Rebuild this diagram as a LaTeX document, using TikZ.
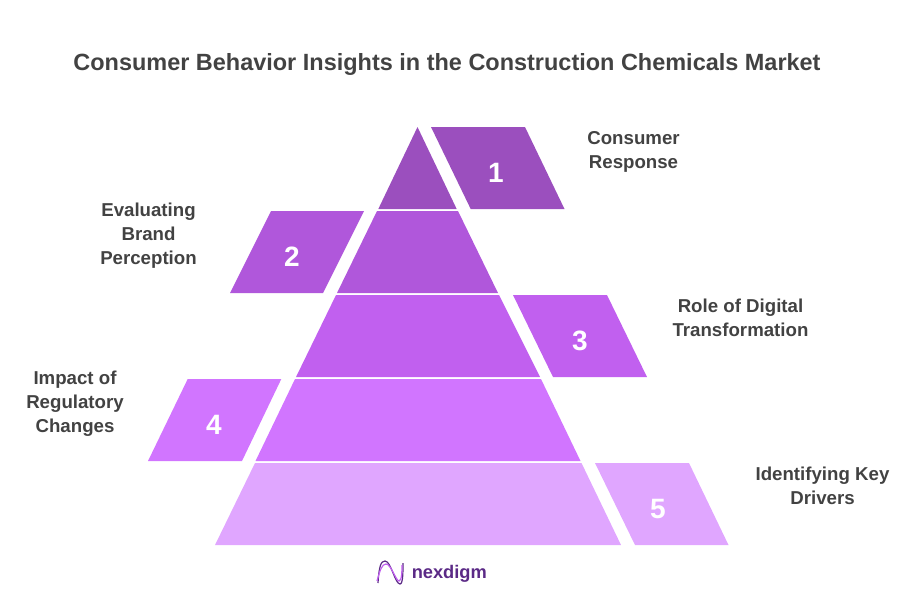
\documentclass[tikz,border=0pt]{standalone}
\usepackage{fontspec}
\setmainfont{Liberation Sans}
\usetikzlibrary{calc}
\definecolor{inkgray}{HTML}{424242}
\definecolor{tierone}{HTML}{9B4FBE}
\definecolor{tiertwo}{HTML}{B057DB}
\definecolor{tierthree}{HTML}{C160EF}
\definecolor{tierfour}{HTML}{D175FF}
\definecolor{tierfive}{HTML}{E0A6FF}
\definecolor{logopurple}{HTML}{5B2A86}
\tikzstyle{annot} = [align=center, text=inkgray, font=\fontsize{14}{18}\selectfont\bfseries, inner sep=0pt]
\tikzstyle{num} = [text=white, font=\fontsize{21}{24}\selectfont\bfseries, inner sep=0pt]
\tikzstyle{logoline} = [line width=0.9pt]
% one slanted tab: top left x, top right x, bottom left x, bottom right x, top y, colour
\newcommand{\drawtab}[6]
{
  \fill[#6] (#1,#5) -- (#2,#5) -- (#4,#5+82) -- (#3,#5+82) -- cycle;
}
\begin{document}
\begin{tikzpicture}[x=0.75pt,y=-0.75pt]
	\useasboundingbox (0,0) rectangle (921,594);

	\node[text=inkgray, font=\fontsize{17.6}{22}\selectfont\bfseries, inner sep=0pt](title) at (447,64.5) {Consumer Behavior Insights in the Construction Chemicals Market};

	% pyramid
	\fill[tierone] (417.5,127) -- (456.7,209) -- (378.3,209) -- cycle;
	\drawtab{377}{458}{337}{498}{211}{tiertwo}
	\drawtab{336}{499}{296}{540}{295}{tierthree}
	\drawtab{295}{541}{255.5}{580.5}{379}{tierfour}
	\drawtab{255}{581.5}{215}{621}{463}{tierfive}

	% side tabs
	\fill[tierone] (431,127) -- (525,127) -- (564.5,209) -- (470.7,209) -- cycle;
	\drawtab{271}{364}{230}{323}{211}{tiertwo}
	\drawtab{513}{607}{553}{647}{295}{tierthree}
	\drawtab{187.7}{281.3}{148}{242}{379}{tierfour}
	\drawtab{595}{689}{635}{728.5}{463}{tierfive}

	\node[num](one) at (496,173) {1};
	\node[num](two) at (292,257) {2};
	\node[num](three) at (580,341) {3};
	\node[num](four) at (214,425) {4};
	\node[num](five) at (658,509) {5};

	\node[annot](response) at (633.5,152) {Consumer\\Response};
	\node[annot](brand) at (148.5,236) {Evaluating\\Brand\\Perception};
	\node[annot](digital) at (740.5,318) {Role of Digital\\Transformation};
	\node[annot](regulatory) at (75,404) {Impact of\\Regulatory\\Changes};
	\node[annot](drivers) at (822.5,486) {Identifying Key\\Drivers};

	% logo
	\draw[logoline, logopurple] (378,583) .. controls (379,566) and (381,561) .. (385,561) .. controls (391,561) and (395,584) .. (400,584) .. controls (403,584) and (403,572) .. (403,563);
	\draw[logoline, tierthree] (377,581) .. controls (380,570) and (382,564) .. (386,564) .. controls (391,564) and (396,581) .. (399,581) .. controls (402,581) and (402,570) .. (402,565);
	\node[text=logopurple, font=\fontsize{13.7}{18}\selectfont\bfseries, inner sep=0pt, anchor=west](logo) at (411.5,573.5) {nexdigm};
\end{tikzpicture}
\end{document}
